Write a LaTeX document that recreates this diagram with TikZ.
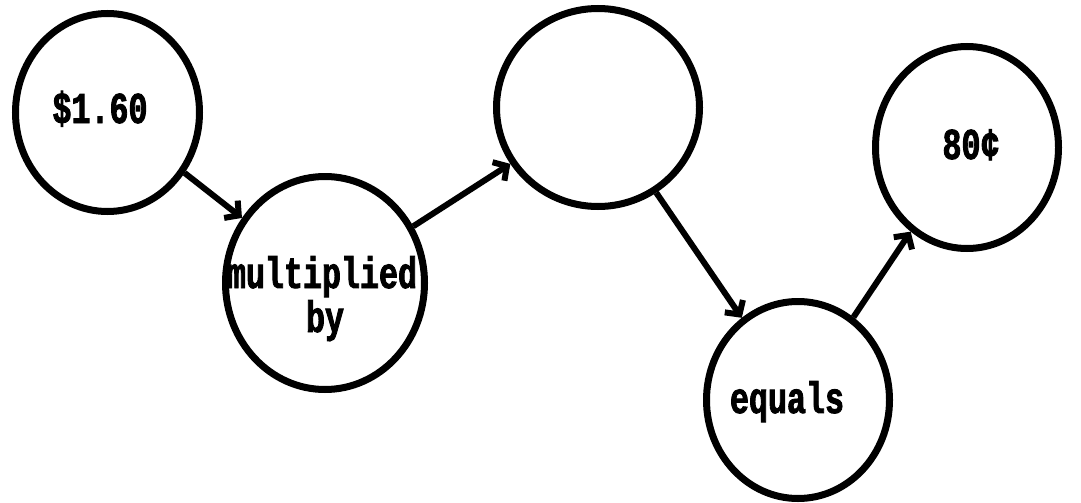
\documentclass[tikz,border=0pt]{standalone}
\usepackage{fontspec}
\newfontfamily\tw[FakeStretch=0.72,FakeBold=2]{Liberation Mono}
\usetikzlibrary{shapes.geometric,arrows.meta}
\begin{document}
\begin{tikzpicture}[x=1pt,y=-1pt,
  bubble/.style={draw=black,line width=7pt,ellipse,inner sep=0pt},
  lbl/.style={font=\tw\bfseries\fontsize{44}{44}\selectfont,inner sep=0pt,anchor=base},
  arr/.style={line width=6pt,-{Straight Barb[length=10pt,width=22pt,line width=6pt]}}]
\useasboundingbox (0,0) rectangle (1081,503);
\node[bubble,minimum width=184pt,minimum height=198pt] (c1) at (107.5,112.5) {};
\node[bubble,minimum width=199pt,minimum height=213pt] (c2) at (325,283) {};
\node[bubble,minimum width=203pt,minimum height=198pt] (c3) at (598,107.5) {};
\node[bubble,minimum width=183pt,minimum height=202pt] (c4) at (967,147.5) {};
\node[bubble,minimum width=183pt,minimum height=197pt] (c5) at (798,400) {};
\node[lbl] (t1) at (100,123) {\$1.60};
\node[lbl] (t2a) at (322,288) {multiplied};
\node[lbl] (t2b) at (325,332) {by};
\node[lbl] (t4) at (971,159) {80¢};
\node[lbl] (t5) at (787,413) {equals};
\draw[arr] (c1) -- (c2);
\draw[arr] (c2) -- (c3);
\draw[arr] (c3) -- (c5);
\draw[arr] (c5) -- (c4);
\end{tikzpicture}
\end{document}
